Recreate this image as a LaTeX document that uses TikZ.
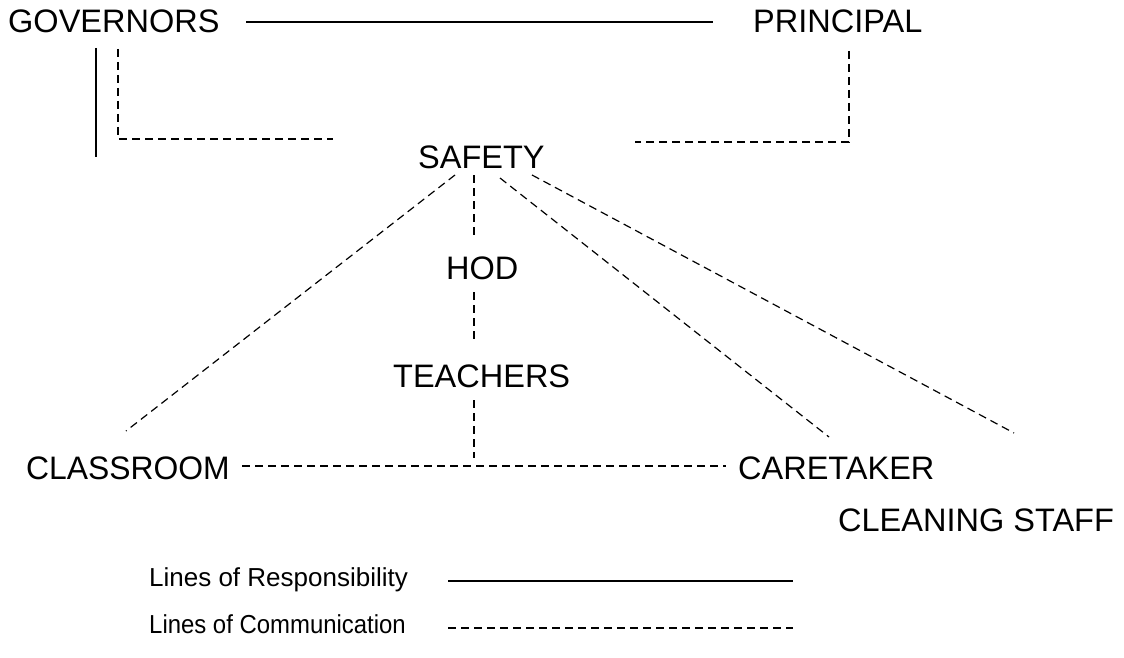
\documentclass[tikz,border=0pt]{standalone}
\usepackage{fontspec}
\usepackage{graphicx}
\setmainfont{Liberation Sans}
\begin{document}
\begin{tikzpicture}[x=1pt,y=-1pt,
  lbl/.style={anchor=base west,inner sep=0pt,font=\fontsize{32.5}{38}\selectfont},
  leg/.style={anchor=base west,inner sep=0pt,font=\fontsize{26}{30}\selectfont},
  resp/.style={line width=1.6pt},
  comm/.style={line width=1.2pt,dash pattern=on 8pt off 5pt}]
\useasboundingbox (0,0) rectangle (1124,658);
\node[lbl] (gov) at (8,33) {GOVERNORS};
\node[lbl] (pri) at (753,33) {PRINCIPAL};
\node[lbl] (saf) at (418,168) {SAFETY};
\node[lbl] (hod) at (446,279) {HOD};
\node[lbl] (tea) at (393,387) {TEACHERS};
\node[lbl] (cla) at (26,479) {\scalebox{0.98}[1]{CLASSROOM}};
\node[lbl] (car) at (738,479) {CARETAKER};
\node[lbl] (cle) at (838,531) {CLEANING STAFF};
\node[leg] (lr) at (149,586) {Lines of Responsibility};
\node[leg] (lc) at (149,633) {\scalebox{0.92}[1]{Lines of Communication}};
% coordinates for free ends
\coordinate (topL) at (246,22);
\coordinate (topR) at (713,22);
\coordinate (gv1) at (96,48);
\coordinate (gv2) at (96,157);
\coordinate (gd1) at (118,49);
\coordinate (gd2) at (333,139);
\coordinate (pd1) at (849,51);
\coordinate (pd2) at (635,142);
\coordinate (s1) at (455,175);
\coordinate (s1e) at (126,431);
\coordinate (s2) at (474,175);
\coordinate (s2e) at (474,238);
\coordinate (h1) at (474,292);
\coordinate (h1e) at (474,343);
\coordinate (t1) at (474,400);
\coordinate (t1e) at (474,458);
\coordinate (s3) at (500,178);
\coordinate (s3e) at (829,437);
\coordinate (s4) at (532,175);
\coordinate (s4e) at (1014,433);
\coordinate (cl1) at (242,466);
\coordinate (cl2) at (726,466);
\coordinate (lr1) at (448,581);
\coordinate (lr2) at (793,581);
\coordinate (lc1) at (448,628);
\coordinate (lc2) at (793,628);
% responsibility
\draw[resp] (topL) -- (topR);
\draw[resp] (gv1) -- (gv2);
\draw[resp] (lr1) -- (lr2);
% communication
\draw[comm] (gd1) |- (gd2);
\draw[comm] (pd1) |- (pd2);
\draw[comm] (s1) -- (s1e);
\draw[comm] (s2) -- (s2e);
\draw[comm] (h1) -- (h1e);
\draw[comm] (t1) -- (t1e);
\draw[comm] (s3) -- (s3e);
\draw[comm] (s4) -- (s4e);
\draw[comm] (cl1) -- (cl2);
\draw[comm] (lc1) -- (lc2);
\end{tikzpicture}
\end{document}
